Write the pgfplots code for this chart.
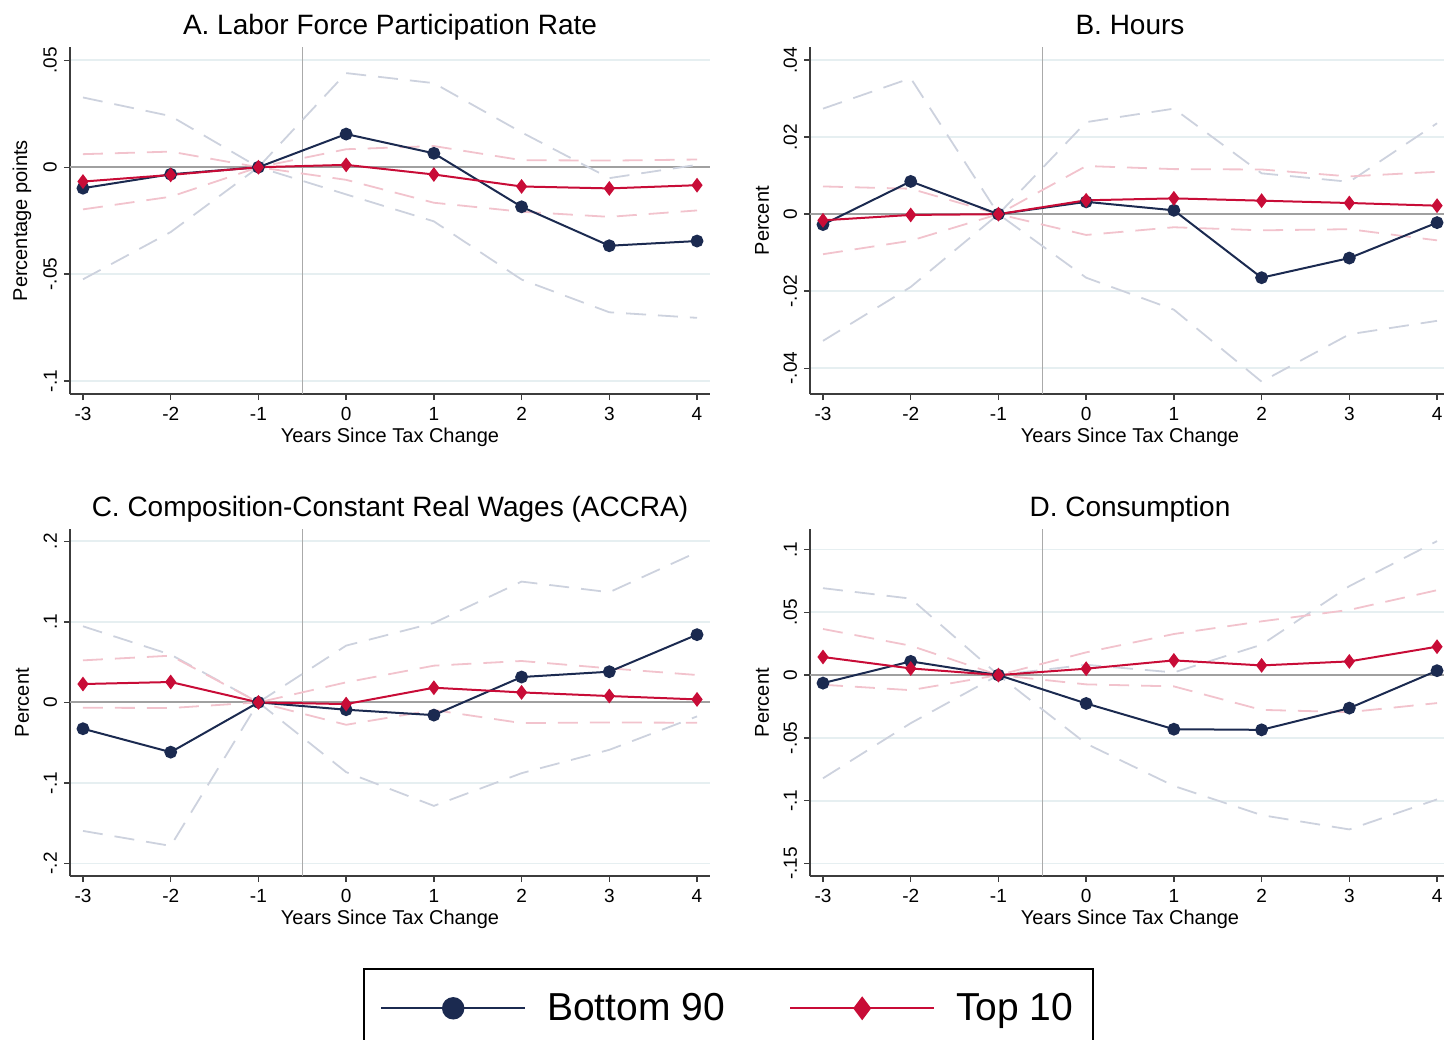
\documentclass[border=0pt]{standalone}
\usepackage{fontspec}
\setmainfont{Liberation Sans}
\usepackage{pgfplots}
\usepackage{pgfplotstable}
\pgfplotsset{compat=1.18}

\definecolor{navyc}{RGB}{27,42,80}
\definecolor{redc}{RGB}{200,12,55}
\definecolor{cigray}{RGB}{205,210,222}
\definecolor{cipink}{RGB}{242,195,205}
\definecolor{gridc}{RGB}{230,239,241}
\definecolor{zeroc}{RGB}{160,160,160}
\definecolor{axisc}{RGB}{60,60,60}

% x  b  blo  bhi  t  tlo  thi
\pgfplotstableread{
x b blo bhi t tlo thi
-3 -0.0098 -0.0524 0.0326 -0.0067 -0.0197 0.0061
-2 -0.0033 -0.0303 0.0239 -0.0036 -0.0138 0.0073
-1 0 0 0 0 0 0
0 0.0155 -0.0127 0.0440 0.0011 -0.0059 0.0084
1 0.0065 -0.0253 0.0393 -0.0034 -0.0166 0.0099
2 -0.0185 -0.0525 0.0163 -0.0090 -0.0208 0.0033
3 -0.0367 -0.0678 -0.0051 -0.0099 -0.0232 0.0031
4 -0.0345 -0.0704 0.0011 -0.0084 -0.0202 0.0036
}\lfpr
\pgfplotstableread{
x b blo bhi t tlo thi
-3 -0.0027 -0.0329 0.0274 -0.0016 -0.0104 0.0072
-2 0.0085 -0.0189 0.0353 -0.0002 -0.0069 0.0066
-1 0 0 0 0 0 0
0 0.0032 -0.0165 0.0239 0.0036 -0.0054 0.0125
1 0.0010 -0.0248 0.0274 0.0041 -0.0034 0.0117
2 -0.0165 -0.0435 0.0106 0.0035 -0.0042 0.0116
3 -0.0114 -0.0312 0.0084 0.0029 -0.0039 0.0098
4 -0.0022 -0.0277 0.0236 0.0022 -0.0068 0.0110
}\hours
\pgfplotstableread{
x b blo bhi t tlo thi
-3 -0.0327 -0.1596 0.0945 0.0228 -0.0066 0.0522
-2 -0.0618 -0.1782 0.0593 0.0253 -0.0070 0.0580
-1 0 0 0 0 0 0
0 -0.0091 -0.0866 0.0705 -0.0021 -0.0278 0.0249
1 -0.0158 -0.1285 0.0987 0.0182 -0.0095 0.0456
2 0.0315 -0.0879 0.1500 0.0124 -0.0257 0.0514
3 0.0381 -0.0589 0.1368 0.0079 -0.0249 0.0423
4 0.0841 -0.0174 0.1865 0.0037 -0.0253 0.0340
}\wages
\pgfplotstableread{
x b blo bhi t tlo thi
-3 -0.0064 -0.0822 0.0692 0.0144 -0.0077 0.0367
-2 0.0109 -0.0383 0.0609 0.0053 -0.0120 0.0234
-1 0 0 0 0 0 0
0 -0.0226 -0.0546 0.0082 0.0051 -0.0074 0.0181
1 -0.0431 -0.0883 0.0021 0.0117 -0.0090 0.0327
2 -0.0436 -0.1115 0.0242 0.0077 -0.0277 0.0428
3 -0.0263 -0.1229 0.0708 0.0109 -0.0295 0.0519
4 0.0035 -0.0990 0.1067 0.0226 -0.0223 0.0676
}\cons

\pgfplotsset{
  panel/.style={
    scale only axis, width=320pt, height=173.3pt,
    axis x line*=bottom, axis y line*=left,
    axis line style={-, draw=axisc, line width=0.7pt},
    tick align=outside, major tick length=3pt,
    tick style={draw=axisc, line width=0.7pt},
    xmin=-3.148, xmax=4.148,
    xtick={-3,...,4}, xticklabels={-3,-2,-1,0,1,2,3,4},
    scaled y ticks=false,
    ymajorgrids, grid style={draw=gridc, line width=0.9pt},
    tick label style={font=\fontsize{9.5}{11}\selectfont},
    yticklabel style={rotate=90, anchor=south},
    xlabel={Years Since Tax Change},
    label style={font=\fontsize{10.2}{12}\selectfont},
    every axis x label/.style={at={(axis description cs:0.5,-0.125)}, anchor=center},
    every axis y label/.style={at={(axis description cs:-0.075,0.5)}, rotate=90, anchor=center},
    every axis title/.style={font=\fontsize{14}{16}\selectfont, at={(axis description cs:0.5,1)}, anchor=base, yshift=6.5pt},
    clip=false,
  },
  ci/.style={line width=0.9pt, dash pattern=on 10pt off 6pt, forget plot},
  bline/.style={navyc, line width=1pt, mark=*, mark size=2.7pt, mark options={solid, fill=navyc}},
  tline/.style={redc, line width=1pt, mark=diamond*, mark size=2.9pt, mark options={solid, fill=redc}},
}

% draws one panel's content
\newcommand{\panelplots}[1]{%
  \draw[zeroc, line width=1pt] ({rel axis cs:0,0}|-{axis cs:0,0}) -- ({rel axis cs:1,0}|-{axis cs:0,0});
  \draw[zeroc!90, line width=0.6pt] ({axis cs:-0.5,0}|-{rel axis cs:0,0}) -- ({axis cs:-0.5,0}|-{rel axis cs:0,1});
  \addplot[ci, cigray] table[x=x, y=bhi] {#1};
  \addplot[ci, cigray] table[x=x, y=blo] {#1};
  \addplot[ci, cipink] table[x=x, y=thi] {#1};
  \addplot[ci, cipink] table[x=x, y=tlo] {#1};
  \addplot[bline] table[x=x, y=b] {#1};
  \addplot[tline] table[x=x, y=t] {#1};
}

\begin{document}
\begin{tikzpicture}
\useasboundingbox (0,0) rectangle (722pt,-519.5pt);

\begin{axis}[panel, at={(35pt,-197pt)}, anchor=south west,
  title={A. Labor Force Participation Rate},
  ylabel={Percentage points},
  ymin=-0.106, ymax=0.056,
  ytick={-0.1,-0.05,0,0.05}, yticklabels={-.1,-.05,0,.05}]
\panelplots{\lfpr}
\end{axis}

\begin{axis}[panel, at={(405pt,-197pt)}, anchor=south west,
  title={B. Hours},
  ylabel={Percent},
  ymin=-0.0467, ymax=0.0433,
  ytick={-0.04,-0.02,0,0.02,0.04}, yticklabels={-.04,-.02,0,.02,.04}]
\panelplots{\hours}
\end{axis}

\begin{axis}[panel, at={(35pt,-438pt)}, anchor=south west,
  title={C. Composition-Constant Real Wages (ACCRA)},
  ylabel={Percent},
  ymin=-0.2156, ymax=0.2148,
  ytick={-0.2,-0.1,0,0.1,0.2}, yticklabels={-.2,-.1,0,.1,.2},
  legend columns=2,
  legend style={at={(axis description cs:0.4578,-0.2659)}, anchor=north west,
    draw=black, line width=1pt, inner xsep=8pt, inner ysep=10pt,
    font=\fontsize{19.5}{22}\selectfont,
    /tikz/every even column/.append style={column sep=30pt}},
  legend image code/.code={\draw[mark repeat=2, mark phase=2, #1, line width=1.2pt, mark size=5pt] plot coordinates {(0pt,0pt) (36pt,0pt) (72pt,0pt)}; \path (80.5pt,0pt);}]
\panelplots{\wages}
\legend{Bottom 90, Top 10\hspace{4pt}}
\end{axis}

\begin{axis}[panel, at={(405pt,-438pt)}, anchor=south west,
  title={D. Consumption},
  ylabel={Percent},
  ymin=-0.160, ymax=0.116,
  ytick={-0.15,-0.1,-0.05,0,0.05,0.1}, yticklabels={-.15,-.1,-.05,0,.05,.1}]
\panelplots{\cons}
\end{axis}
\end{tikzpicture}
\end{document}
